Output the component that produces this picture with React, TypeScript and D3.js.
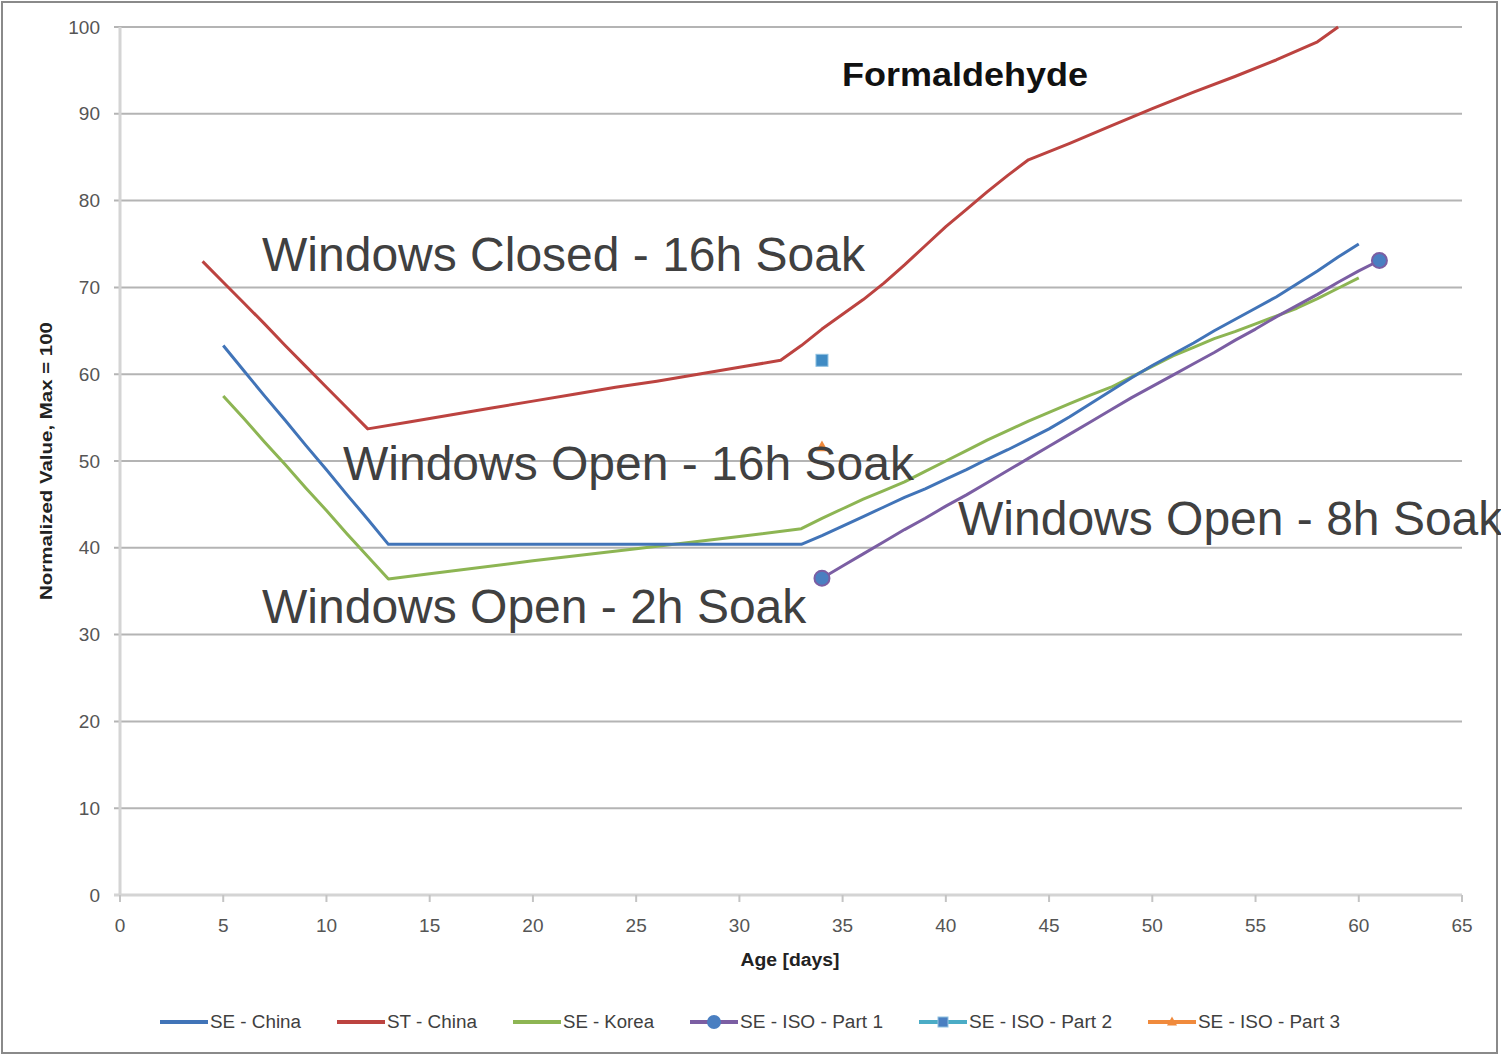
import React from 'react';
import * as d3 from 'd3';

// ---------- data ----------
const xTickValues = [0, 5, 10, 15, 20, 25, 30, 35, 40, 45, 50, 55, 60, 65];
const yTickValues = [0, 10, 20, 30, 40, 50, 60, 70, 80, 90, 100];

const seChinaDays = [5, 6, 7, 8, 9, 10, 11, 12, 13, 20, 27, 33, 34, 35, 36, 37, 38, 39, 40, 41, 42, 43, 44, 45, 46, 47, 48, 49, 50, 51, 52, 53, 54, 55, 56, 57, 58, 59, 60];
const seChinaValues = [63.3, 60.4, 57.5, 54.7, 51.8, 49.0, 46.1, 43.3, 40.4, 40.4, 40.4, 40.4, 41.4, 42.5, 43.6, 44.7, 45.8, 46.8, 47.9, 49.0, 50.2, 51.3, 52.5, 53.7, 55.1, 56.6, 58.1, 59.6, 61.0, 62.3, 63.6, 65.0, 66.3, 67.6, 68.9, 70.4, 71.9, 73.5, 75.0];

const stChinaDays = [4, 5, 6, 7, 8, 9, 10, 11, 12, 14, 16, 18, 20, 22, 24, 26, 28, 30, 32, 33, 34, 35, 36, 37, 38, 39, 40, 41, 42, 43, 44, 46, 48, 50, 52, 54, 56, 58, 59];
const stChinaValues = [73.0, 70.6, 68.2, 65.8, 63.3, 60.9, 58.5, 56.1, 53.7, 54.5, 55.3, 56.1, 56.9, 57.7, 58.5, 59.2, 60.0, 60.8, 61.6, 63.3, 65.2, 66.9, 68.6, 70.5, 72.6, 74.8, 77.0, 79.0, 81.0, 82.9, 84.7, 86.6, 88.6, 90.6, 92.5, 94.3, 96.2, 98.3, 100.0];

const seKoreaDays = [5, 6, 7, 8, 9, 10, 11, 12, 13, 15, 20, 25, 30, 33, 34, 35, 36, 37, 38, 39, 40, 41, 42, 43, 44, 45, 46, 47, 48, 49, 50, 51, 52, 53, 54, 55, 56, 57, 58, 59, 60];
const seKoreaValues = [57.5, 54.9, 52.2, 49.6, 46.9, 44.3, 41.6, 39.0, 36.4, 37.0, 38.5, 39.9, 41.3, 42.2, 43.4, 44.5, 45.6, 46.6, 47.6, 48.8, 50.0, 51.2, 52.4, 53.5, 54.6, 55.6, 56.6, 57.6, 58.5, 59.7, 60.9, 62.1, 63.1, 64.1, 64.9, 65.8, 66.7, 67.6, 68.7, 69.9, 71.1];

const isoPart1Days = [34, 35, 36, 37, 38, 39, 40, 41, 42, 43, 44, 45, 46, 47, 48, 49, 50, 51, 52, 53, 54, 55, 56, 57, 58, 59, 60, 61];
const isoPart1Values = [36.5, 37.9, 39.3, 40.7, 42.1, 43.4, 44.8, 46.1, 47.5, 48.9, 50.3, 51.7, 53.1, 54.5, 55.9, 57.3, 58.6, 59.9, 61.2, 62.5, 63.9, 65.2, 66.6, 67.9, 69.2, 70.6, 71.9, 73.1];
const isoPart1MarkerDays = [34, 61];

const isoPart2Days = [34];
const isoPart2Values = [61.6];

const isoPart3Days = [34];
const isoPart3Values = [51.6];

const annotationTexts = ['Windows Closed - 16h Soak', 'Windows Open - 16h Soak', 'Windows Open - 2h Soak', 'Windows Open - 8h Soak'];
const annotationDays = [6.88, 10.8, 6.88, 40.59];
const annotationLevels = [71.9, 47.8, 31.3, 41.5];

const legendLabels = ['SE - China', 'ST - China', 'SE - Korea', 'SE - ISO - Part 1', 'SE - ISO - Part 2', 'SE - ISO - Part 3'];

// ---------- styling / layout ----------
const W = 1501;
const H = 1056;
const plot = { left: 120, right: 1462, top: 27, bottom: 895 };
const COL = {
  blue: '#4174b8',
  red: '#bc4340',
  green: '#8db553',
  purple: '#7b5ea3',
  aqua: '#4bacc6',
  markerBlue: '#4a7fc1',
  part2: '#3f8bc4',
  orange: '#f08a3c',
  grid: '#b4b4b4',
  axis: '#d4d4d4',
  text: '#404040',
  tick: '#555555',
};
const legendLineColors = [COL.blue, COL.red, COL.green, COL.purple, COL.aqua, COL.orange];
const legendMarkers = ['none', 'none', 'none', 'circle', 'square', 'triangle'];
const legendTextWidths = [91, 90, 91, 143, 143, 142];

const FONT = "'Liberation Sans', Arial, sans-serif";

function zip(days: number[], vals: number[]) {
  return days.map((d, i) => ({ d, v: vals[i] }));
}

function Marker({ type, cx, cy, fill, stroke, size }: any) {
  if (type === 'circle') return <circle cx={cx} cy={cy} r={size} fill={fill} stroke={stroke} strokeWidth={2} />;
  if (type === 'square')
    return <rect x={cx - size} y={cy - size} width={size * 2} height={size * 2} fill={fill} stroke="#8fc1e0" strokeWidth={1} />;
  if (type === 'triangle') {
    const s = size;
    return <path d={`M${cx},${cy - s * 1.1} L${cx + s},${cy + s * 0.7} L${cx - s},${cy + s * 0.7} Z`} fill={fill} />;
  }
  return null;
}

export default function App() {
  const x = d3.scaleLinear().domain([0, 65]).range([plot.left, plot.right]);
  const y = d3.scaleLinear().domain([0, 100]).range([plot.bottom, plot.top]);
  const line = d3
    .line<{ d: number; v: number }>()
    .x((p) => x(p.d))
    .y((p) => y(p.v));

  const series = [
    { data: zip(seKoreaDays, seKoreaValues), color: COL.green },
    { data: zip(seChinaDays, seChinaValues), color: COL.blue },
    { data: zip(stChinaDays, stChinaValues), color: COL.red },
    { data: zip(isoPart1Days, isoPart1Values), color: COL.purple },
  ];

  const part1Markers = zip(isoPart1Days, isoPart1Values).filter((p) => isoPart1MarkerDays.includes(p.d));
  const part2 = zip(isoPart2Days, isoPart2Values);
  const part3 = zip(isoPart3Days, isoPart3Values);

  // legend layout
  const legendY = 1022;
  let cursor = 160;
  const legendItems = legendLabels.map((label, i) => {
    const item = { label, x: cursor, color: legendLineColors[i], marker: legendMarkers[i], w: legendTextWidths[i] };
    cursor += 50 + legendTextWidths[i] + 36;
    return item;
  });

  return (
    <svg
      width={W}
      height={H}
      viewBox={`0 0 ${W} ${H}`}
      style={{ position: 'absolute', left: 0, top: 0, display: 'block', background: '#fff' }}
    >
      <rect x={0} y={0} width={W} height={H} fill="#fff" />
      {/* outer frame */}
      <rect x={2} y={2} width={1495} height={1051} fill="none" stroke="#8a8a8a" strokeWidth={2} />

      {/* gridlines and y ticks */}
      {yTickValues.map((t) => (
        <g key={'gy' + t}>
          {t > 0 && (
            <line x1={plot.left - 6} x2={plot.right} y1={y(t)} y2={y(t)} stroke={COL.grid} strokeWidth={2} />
          )}
          <text
            x={100}
            y={y(t)}
            dy="0.35em"
            textAnchor="end"
            fontFamily={FONT}
            fontSize={19}
            fill={COL.tick}
          >
            {t}
          </text>
        </g>
      ))}

      {/* axes */}
      <line x1={plot.left} x2={plot.left} y1={plot.top} y2={plot.bottom} stroke={COL.axis} strokeWidth={3} />
      <line x1={plot.left - 6} x2={plot.right} y1={plot.bottom} y2={plot.bottom} stroke={COL.axis} strokeWidth={3} />
      {xTickValues.map((t) => (
        <g key={'gx' + t}>
          <line x1={x(t)} x2={x(t)} y1={plot.bottom} y2={plot.bottom + 7} stroke="#c4c4c4" strokeWidth={2} />
          <text x={x(t)} y={932} textAnchor="middle" fontFamily={FONT} fontSize={19} fill={COL.tick}>
            {t}
          </text>
        </g>
      ))}

      {/* axis titles */}
      <text
        x={790}
        y={966}
        textAnchor="middle"
        fontFamily={FONT}
        fontSize={18}
        fontWeight="bold"
        fill="#222"
        textLength={99}
        lengthAdjust="spacingAndGlyphs"
      >
        Age [days]
      </text>
      <text
        transform="translate(52,461) rotate(-90)"
        textAnchor="middle"
        fontFamily={FONT}
        fontSize={17}
        fontWeight="bold"
        fill="#222"
        textLength={278}
        lengthAdjust="spacingAndGlyphs"
      >
        Normalized Value, Max = 100
      </text>

      {/* title */}
      <text
        x={842}
        y={86}
        fontFamily={FONT}
        fontSize={33}
        fontWeight="bold"
        fill="#111"
        textLength={246}
        lengthAdjust="spacingAndGlyphs"
      >
        Formaldehyde
      </text>

      {/* series lines */}
      {series.map((s, i) => (
        <path key={'s' + i} d={line(s.data) || ''} fill="none" stroke={s.color} strokeWidth={3} strokeLinejoin="round" />
      ))}

      {/* markers */}
      {part1Markers.map((p, i) => (
        <Marker key={'m1' + i} type="circle" cx={x(p.d)} cy={y(p.v)} size={7.5} fill={COL.markerBlue} stroke={COL.purple} />
      ))}
      {part2.map((p, i) => (
        <Marker key={'m2' + i} type="square" cx={x(p.d)} cy={y(p.v)} size={6} fill={COL.part2} />
      ))}
      {part3.map((p, i) => (
        <Marker key={'m3' + i} type="triangle" cx={x(p.d)} cy={y(p.v)} size={6} fill={COL.orange} />
      ))}

      {/* annotations */}
      {annotationTexts.map((t, i) => (
        <text
          key={'a' + i}
          x={x(annotationDays[i])}
          y={y(annotationLevels[i])}
          fontFamily={FONT}
          fontSize={48}
          fill={COL.text}
        >
          {t}
        </text>
      ))}

      {/* legend */}
      {legendItems.map((it, i) => (
        <g key={'l' + i}>
          <line x1={it.x} x2={it.x + 48} y1={legendY} y2={legendY} stroke={it.color} strokeWidth={4} />
          {it.marker !== 'none' && (
            <Marker
              type={it.marker}
              cx={it.x + 24}
              cy={legendY}
              size={it.marker === 'circle' ? 6 : 5}
              fill={it.marker === 'triangle' ? COL.orange : COL.markerBlue}
              stroke={COL.markerBlue}
            />
          )}
          <text
            x={it.x + 50}
            y={legendY}
            dy="0.36em"
            fontFamily={FONT}
            fontSize={18}
            fill={COL.text}
            textLength={it.w}
            lengthAdjust="spacingAndGlyphs"
          >
            {it.label}
          </text>
        </g>
      ))}
    </svg>
  );
}
